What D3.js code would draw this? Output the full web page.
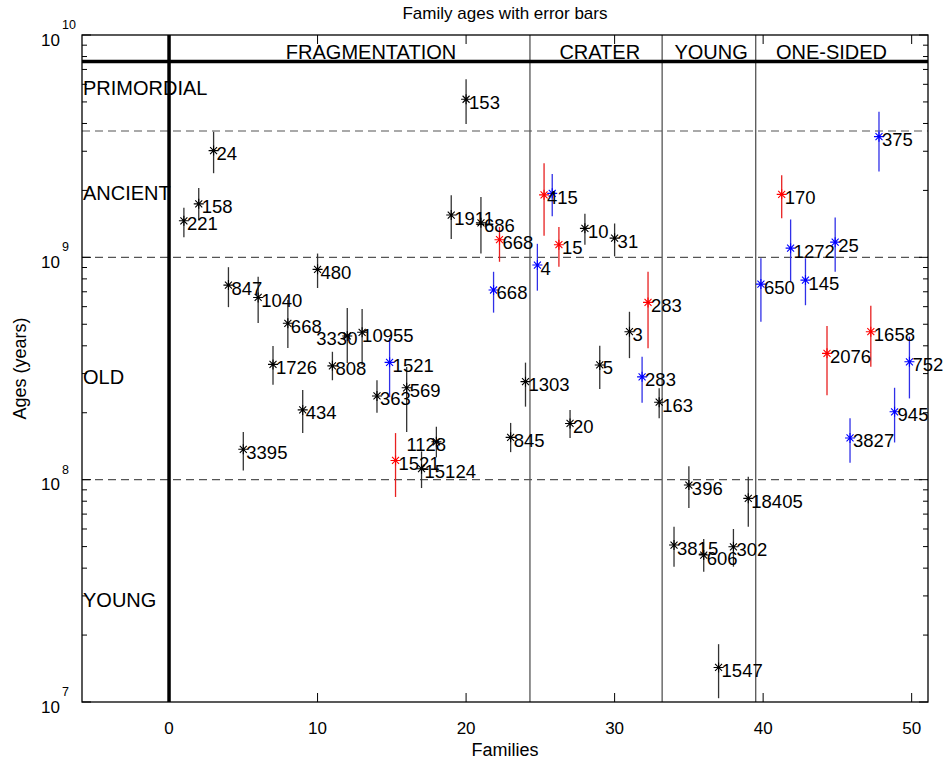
<!DOCTYPE html>
<html>
<head>
<meta charset="utf-8">
<script src="https://cdn.jsdelivr.net/npm/d3@7"></script>
<style>
  body { margin: 0; background: white; }
  text { font-family: "Liberation Sans", Arial, sans-serif; fill: black; }
</style>
</head>
<body>
<svg id="ages" width="945" height="765"></svg>
<script>
// family index, age estimate (years), error bar low / high, label, method (0 black, 1 blue, 2 red)
const famX = [1, 2, 3, 4, 5, 6, 7, 8, 9, 10, 11, 12, 13, 14, 14.85, 15.25, 16, 17, 18, 19, 20, 21,
              21.85, 22.25, 23, 24, 24.8, 25.25, 25.8, 26.25, 27, 28, 29, 30, 31, 31.85, 32.25, 33,
              34, 35, 36, 37, 38, 39, 39.85, 41.25, 41.85, 42.85, 44.3, 44.85, 45.85, 47.25, 47.8, 48.85, 49.85];
const famAge = [1.46e9, 1.74e9, 3.02e9, 7.5e8, 1.37e8, 6.6e8, 3.3e8, 5.05e8, 2.06e8, 8.83e8, 3.25e8, 4.43e8, 4.6e8, 2.38e8,
                3.37e8, 1.22e8, 2.59e8, 1.12e8, 1.48e8, 1.55e9, 5.14e9, 1.43e9, 7.13e8, 1.2e9, 1.55e8, 2.76e8,
                9.23e8, 1.91e9, 1.94e9, 1.14e9, 1.79e8, 1.35e9, 3.28e8, 1.22e9, 4.63e8, 2.9e8, 6.27e8, 2.23e8,
                5.08e7, 9.46e7, 4.58e7, 1.43e7, 4.99e7, 8.24e7, 7.58e8, 1.92e9, 1.1e9, 7.9e8, 3.7e8, 1.17e9,
                1.54e8, 4.63e8, 3.49e9, 2.02e8, 3.39e8];
const famLow = [1.23e9, 1.47e9, 2.39e9, 5.97e8, 1.1e8, 5.06e8, 2.67e8, 3.91e8, 1.62e8, 7.28e8, 2.8e8, 3.35e8, 3.28e8, 2.0e8,
                2.35e8, 8.36e7, 1.64e8, 9.17e7, 1.26e8, 1.21e9, 3.98e9, 1.04e9, 5.64e8, 9.55e8, 1.33e8, 2.13e8,
                7.08e8, 1.25e9, 1.53e9, 9.08e8, 1.54e8, 1.14e9, 2.56e8, 1.01e9, 3.52e8, 2.22e8, 3.9e8, 1.89e8,
                4.06e7, 7.45e7, 3.85e7, 1.04e7, 4.06e7, 6.14e7, 5.13e8, 1.5e9, 7.75e8, 6.09e8, 2.4e8, 8.61e8,
                1.19e8, 3.22e8, 2.43e9, 1.47e8, 2.32e8];
const famHigh = [1.67e9, 2.05e9, 3.67e9, 9.03e8, 1.64e8, 8.18e8, 3.99e8, 6.43e8, 2.53e8, 1.04e9, 3.76e8, 5.92e8, 5.85e8, 2.8e8,
                 4.34e8, 1.62e8, 3.21e8, 1.34e8, 1.73e8, 1.9e9, 6.32e9, 1.87e9, 8.61e8, 1.37e9, 1.8e8, 3.36e8,
                 1.15e9, 2.65e9, 2.37e9, 1.37e9, 2.06e8, 1.57e9, 4.0e8, 1.42e9, 5.69e8, 3.57e8, 8.61e8, 2.58e8,
                 6.14e7, 1.15e8, 5.41e7, 1.82e7, 6.0e7, 1.03e8, 9.9e8, 2.34e9, 1.48e9, 9.9e8, 4.91e8, 1.51e9,
                 1.89e8, 6.05e8, 4.52e9, 2.59e8, 4.4e8];
const famLabel = ["221", "158", "24", "847", "3395", "1040", "1726", "668", "434", "480", "808", "3330", "10955", "363",
                  "1521", "1521", "569", "15124", "1128", "1911", "153", "686", "668", "668", "845", "1303",
                  "4", "415", "", "15", "20", "10", "5", "31", "3", "283", "283", "163",
                  "3815", "396", "606", "1547", "302", "18405", "650", "170", "1272", "145", "2076", "25",
                  "3827", "1658", "375", "945", "752"];
const famMethod = [0, 0, 0, 0, 0, 0, 0, 0, 0, 0, 0, 0, 0, 0, 1, 2, 0, 0, 0, 0, 0, 0, 1, 2, 0, 0,
                   1, 2, 1, 2, 0, 0, 0, 0, 0, 1, 2, 0, 0, 0, 0, 0, 0, 0, 1, 2, 1, 1, 2, 1, 1, 2, 1, 1, 1];

// group boundaries and names along the family axis
const groupEdges = [24.3, 33.2, 39.5];
const groupNames = ["FRAGMENTATION", "CRATER", "YOUNG", "ONE-SIDED"];
const groupCenters = [13.6, 29.0, 36.5, 44.6];

// age classes
const classLimits = [1e8, 1e9, 3.7e9];
const classNames = ["PRIMORDIAL", "ANCIENT", "OLD", "YOUNG"];
const classAges = [5.8e9, 1.95e9, 2.9e8, 2.87e7];
const solarAge = 7.6e9;

const xTicks = [0, 10, 20, 30, 40, 50];
const yDecades = [7, 8, 9, 10];

const methodColor = ["black", "blue", "red"];
const barColor = ["#333", "#3030e8", "#e82020"];

const svg = d3.select("svg#ages");
const margin = {left: 82, right: 17, top: 35, bottom: 63};
const W = +svg.attr("width"), H = +svg.attr("height");

const x = d3.scaleLinear().domain([-5.86, 51.1]).range([margin.left, W - margin.right]);
const y = d3.scaleLog().domain([1e7, 1e10]).range([H - margin.bottom, margin.top]);

const points = famX.map((fx, i) => ({x: fx, age: famAge[i], lo: famLow[i], hi: famHigh[i],
                                     label: famLabel[i], m: famMethod[i]}));

// labels that sit away from their star
const labelShift = {"3330": -34, "1128": -33, "10955": -3};

svg.append("rect").attr("width", W).attr("height", H).attr("fill", "white");

const plot = svg.append("g").attr("class", "plot");

// dashed class limits
plot.selectAll("line.limit").data(classLimits).join("line").attr("class", "limit")
    .attr("x1", x.range()[0]).attr("x2", x.range()[1])
    .attr("y1", d => y(d)).attr("y2", d => y(d))
    .attr("stroke", "#555").attr("stroke-width", 1.2).attr("stroke-dasharray", "8,5");

// group separators
plot.selectAll("line.edge").data(groupEdges).join("line").attr("class", "edge")
    .attr("x1", d => x(d)).attr("x2", d => x(d))
    .attr("y1", y.range()[0]).attr("y2", y.range()[1])
    .attr("stroke", "#555").attr("stroke-width", 1.3);

plot.append("line")
    .attr("x1", x(0)).attr("x2", x(0)).attr("y1", y.range()[0]).attr("y2", y.range()[1])
    .attr("stroke", "black").attr("stroke-width", 3.5);
plot.append("line")
    .attr("x1", x.range()[0]).attr("x2", x.range()[1]).attr("y1", y(solarAge)).attr("y2", y(solarAge))
    .attr("stroke", "black").attr("stroke-width", 3.5);

plot.selectAll("text.group").data(groupNames).join("text").attr("class", "group")
    .attr("x", (d, i) => x(groupCenters[i])).attr("y", y(solarAge) - 2)
    .attr("text-anchor", "middle").attr("font-size", "20px")
    .text(d => d);

plot.selectAll("text.class").data(classNames).join("text").attr("class", "class")
    .attr("x", x.range()[0] + 1).attr("y", (d, i) => y(classAges[i]))
    .attr("dominant-baseline", "central").attr("font-size", "20px")
    .text(d => d);

// error bars
plot.selectAll("line.err").data(points).join("line").attr("class", "err")
    .attr("x1", d => x(d.x)).attr("x2", d => x(d.x))
    .attr("y1", d => y(d.lo)).attr("y2", d => y(d.hi))
    .attr("stroke", d => barColor[d.m]).attr("stroke-width", 1.3);

// asterisk markers
plot.selectAll("path.star").data(points).join("path").attr("class", "star")
    .attr("transform", d => `translate(${x(d.x)},${y(d.age)})`)
    .attr("d", "M-5,0H5M0,-5V5M-3.5,-3.5L3.5,3.5M-3.5,3.5L3.5,-3.5")
    .attr("stroke", d => methodColor[d.m]).attr("stroke-width", 1.1).attr("fill", "none");

plot.selectAll("text.fam").data(points).join("text").attr("class", "fam")
    .attr("x", d => x(d.x) + 3 + (labelShift[d.label] || 0))
    .attr("y", d => y(d.age) + 3)
    .attr("dominant-baseline", "central").attr("font-size", "18.5px")
    .text(d => d.label);

// frame and ticks
const [x0, x1] = x.range(), [yb, yt] = y.range();
svg.append("rect").attr("x", x0).attr("y", yt).attr("width", x1 - x0).attr("height", yb - yt)
    .attr("fill", "none").attr("stroke", "black").attr("stroke-width", 1.3);

svg.selectAll("line.xtick").data(xTicks.flatMap(t => [[t, yb, -9], [t, yt, 9]])).join("line")
    .attr("class", "xtick")
    .attr("x1", d => x(d[0])).attr("x2", d => x(d[0]))
    .attr("y1", d => d[1]).attr("y2", d => d[1] + d[2])
    .attr("stroke", "black");

svg.selectAll("text.xlab").data(xTicks).join("text").attr("class", "xlab")
    .attr("x", d => x(d)).attr("y", yb + 26)
    .attr("text-anchor", "middle").attr("dominant-baseline", "central").attr("font-size", "17px")
    .text(d => d);

const yMinor = d3.range(7, 10).flatMap(k => d3.range(2, 10).map(m => m * Math.pow(10, k)));
const yTickData = yDecades.map(k => [Math.pow(10, k), 9]).concat(yMinor.map(v => [v, 5]));
svg.selectAll("line.ytick").data(yTickData.flatMap(d => [[d[0], x0, d[1]], [d[0], x1, -d[1]]])).join("line")
    .attr("class", "ytick")
    .attr("x1", d => d[1]).attr("x2", d => d[1] + d[2])
    .attr("y1", d => y(d[0])).attr("y2", d => y(d[0]))
    .attr("stroke", "black");

const ylab = svg.selectAll("g.ylab").data(yDecades).join("g").attr("class", "ylab")
    .attr("transform", d => `translate(${x0 - 22},${y(Math.pow(10, d))})`);
ylab.append("text").attr("x", 0).attr("y", 5)
    .attr("text-anchor", "end").attr("dominant-baseline", "central").attr("font-size", "17px")
    .text("10");
ylab.append("text").attr("x", 2).attr("y", -10)
    .attr("dominant-baseline", "central").attr("font-size", "12.5px")
    .text(d => d);

svg.append("text").attr("x", (x0 + x1) / 2).attr("y", 13)
    .attr("text-anchor", "middle").attr("dominant-baseline", "central").attr("font-size", "17px")
    .text("Family ages with error bars");
svg.append("text").attr("x", (x0 + x1) / 2).attr("y", 750)
    .attr("text-anchor", "middle").attr("dominant-baseline", "central").attr("font-size", "18px")
    .text("Families");
svg.append("text").attr("transform", `translate(20,${(yt + yb) / 2}) rotate(-90)`)
    .attr("text-anchor", "middle").attr("dominant-baseline", "central").attr("font-size", "18px")
    .text("Ages (years)");
</script>
</body>
</html>
